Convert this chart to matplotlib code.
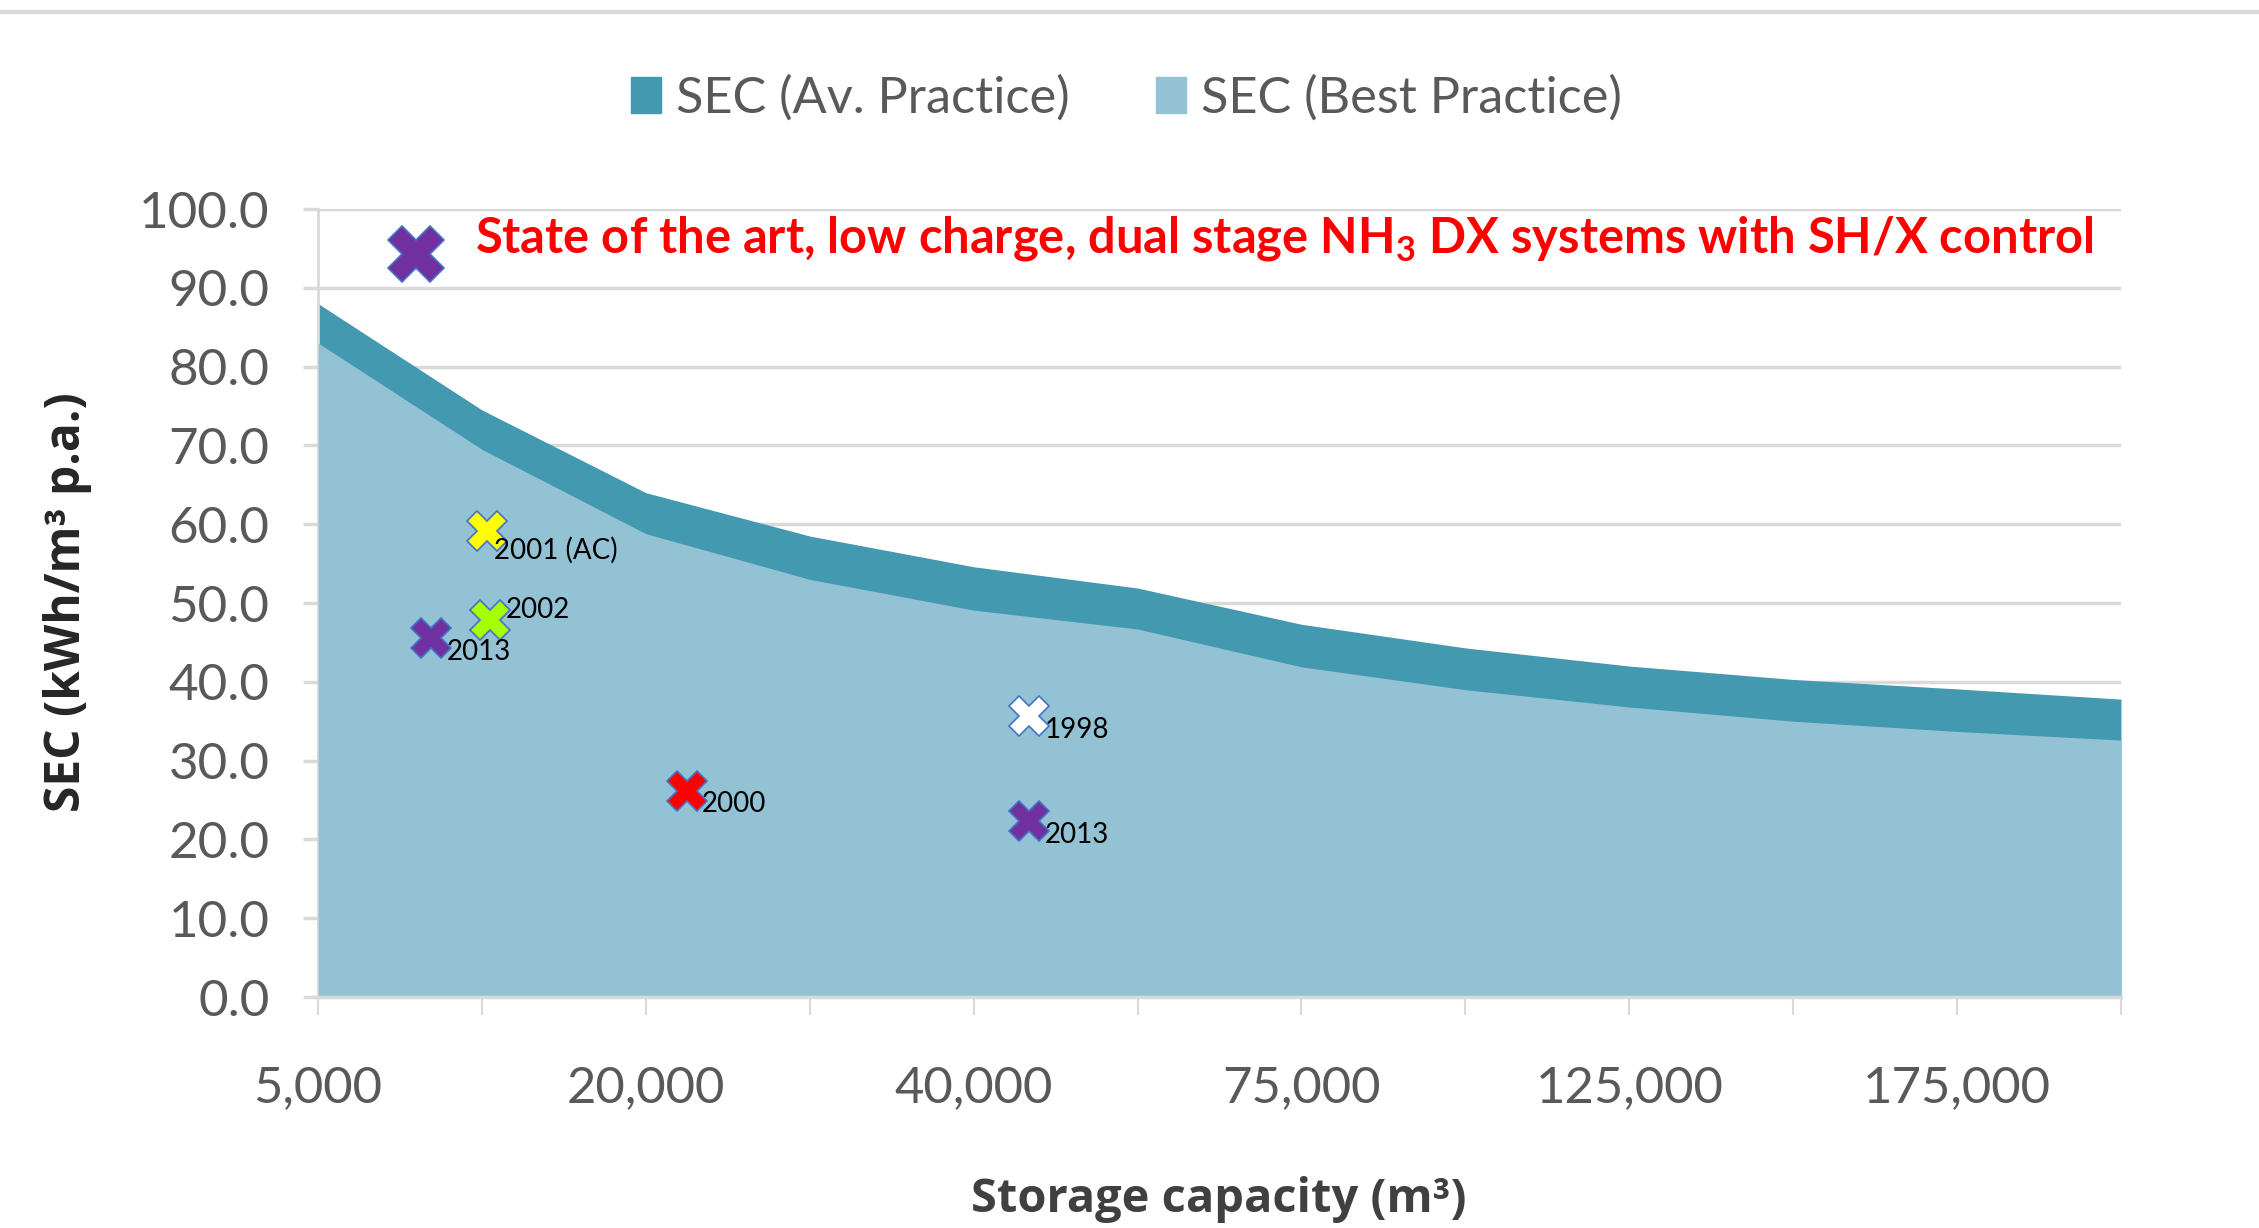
import numpy as np
import matplotlib.pyplot as plt
from matplotlib.patches import Patch
from matplotlib.lines import Line2D

plt.rcParams['font.family'] = ['Lato', 'DejaVu Sans']
plt.rcParams['mathtext.fontset'] = 'custom'
plt.rcParams['mathtext.rm'] = 'Lato'
plt.rcParams['mathtext.bf'] = 'Lato:bold'

# storage capacity categories (only every other one is labelled)
capacities = ['5,000', '10,000', '20,000', '30,000', '40,000', '50,000',
              '75,000', '100,000', '125,000', '150,000', '175,000', '200,000']
sec_av = [88.0, 74.5, 64.0, 58.5, 54.6, 51.9, 47.3, 44.3, 42.0, 40.3, 39.1, 37.8]
sec_best = [83.0, 69.5, 58.8, 53.0, 49.1, 46.7, 41.9, 39.0, 36.8, 35.0, 33.7, 32.6]

# individual plants (x in category units)
plant_x = [1.03, 1.05, 0.69, 2.25, 4.34, 4.34]
plant_y = [59.2, 47.9, 45.5, 26.1, 35.6, 22.3]
plant_labels = ['2001 (AC)', '2002', '2013', '2000', '1998', '2013']
plant_colors = ['#FFFF00', '#A6FF00', '#7030A0', '#FF0000', '#FFFFFF', '#7030A0']
label_offsets = [(5, -14), (11, 7), (11, -10), (11, -9), (11, -10), (11, -10)]

# state-of-the-art marker
soa_x, soa_y = 0.60, 94.3

c_av = '#4399B0'
c_best = '#93C2D5'
c_grid = '#D9D9D9'
c_text = '#595959'

fig = plt.figure(figsize=(22.59, 12.28), dpi=100)
ax = fig.add_axes([0.1408, 0.1881, 0.7981, 0.6417])

x = np.arange(len(capacities))
ax.fill_between(x, sec_av, 0, color=c_av, lw=0, zorder=2)
ax.fill_between(x, sec_best, 0, color=c_best, lw=0, zorder=3)

# plant markers
for px, py, lab, col, off in zip(plant_x, plant_y, plant_labels, plant_colors, label_offsets):
    ax.plot(px, py, marker='X', ms=29, mfc=col, mec='#4472C4', mew=1.2, ls='none', zorder=5)
    ax.annotate(lab, (px, py), xytext=off, textcoords='offset points',
                ha='left', va='center', fontsize=20, color='black', zorder=6)

ax.plot(soa_x, soa_y, marker='X', ms=41, mfc='#7030A0', mec='#4472C4', mew=1.2,
        ls='none', zorder=5, clip_on=False)
ax.text(0.96, 96.3,
        r'State of the art, low charge, dual stage NH$_\mathbf{3}$ DX systems with SH/X control',
        color='#FF0000', fontsize=35.2, fontweight='bold', va='center', ha='left', zorder=6)

ax.set_xlim(0, len(capacities) - 1)
ax.set_ylim(0, 100)
ax.set_yticks(np.arange(0, 101, 10))
ax.set_yticklabels(['%.1f' % v for v in np.arange(0, 101, 10)])
ax.set_xticks(x)
ax.set_xticklabels([c if i % 2 == 0 else '' for i, c in enumerate(capacities)])

ax.grid(axis='y', color=c_grid, lw=2.5, zorder=1)
ax.set_axisbelow(True)
for s in ['top', 'right']:
    ax.spines[s].set_visible(False)
ax.spines['left'].set_color(c_grid)
ax.spines['left'].set_linewidth(2)
ax.spines['bottom'].set_color(c_grid)
ax.spines['bottom'].set_linewidth(2.5)
ax.spines['bottom'].set_zorder(4)

ax.tick_params(axis='y', length=11, width=2.5, color=c_grid, pad=24,
               labelsize=36.8, labelcolor=c_text)
ax.tick_params(axis='x', length=13, width=1.5, color=c_grid, pad=36,
               labelsize=36.5, labelcolor=c_text)

# legend
handles = [Patch(color=c_av, label='SEC (Av. Practice)'),
           Patch(color=c_best, label='SEC (Best Practice)')]
fig.legend(handles=handles, loc='center', bbox_to_anchor=(0.4987, 0.9200), ncol=2,
           frameon=False, fontsize=36.4, labelcolor=c_text, handlelength=0.6,
           handleheight=0.7, handletextpad=0.3, columnspacing=1.7)

# axis titles
fig.text(0.5397, 0.0236, 'Storage capacity (m³)', ha='center', va='center',
         fontsize=33.8, fontweight='bold', color='#404040', family=['Open Sans', 'DejaVu Sans'])
fig.text(0.030, 0.5098, 'SEC (kWh/m³ p.a.)', ha='center', va='center', rotation=90,
         fontsize=34.5, fontweight='bold', color='#262626', family=['Open Sans', 'DejaVu Sans'])

# thin border line at the top of the image
fig.add_artist(Line2D([0, 1], [0.990, 0.990], color='#D9D9D9', lw=3, transform=fig.transFigure))

fig.savefig('out.png', dpi=100)
